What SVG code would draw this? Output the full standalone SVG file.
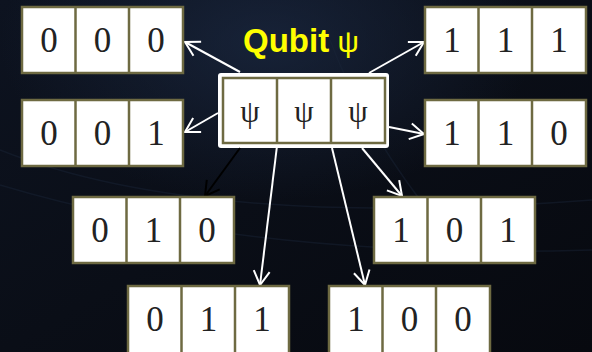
<svg xmlns="http://www.w3.org/2000/svg" width="592" height="352" viewBox="0 0 592 352">
  <defs>
    <linearGradient id="bg" x1="0" y1="0" x2="1" y2="1">
      <stop offset="0" stop-color="#0d1320"/>
      <stop offset="0.5" stop-color="#0a0e17"/>
      <stop offset="1" stop-color="#07090f"/>
    </linearGradient>
    <radialGradient id="glow" cx="0.45" cy="0.12" r="0.45">
      <stop offset="0" stop-color="#1c2a44" stop-opacity="0.7"/>
      <stop offset="1" stop-color="#1c2a44" stop-opacity="0"/>
    </radialGradient>
    <marker id="ahw" viewBox="-16 -10 18 20" refX="0" refY="0" markerWidth="18" markerHeight="20" orient="auto" markerUnits="userSpaceOnUse">
      <path d="M-14,-8 L0,0 L-14,8" fill="none" stroke="#ffffff" stroke-width="2"/>
    </marker>
    <marker id="ahb" viewBox="-16 -10 18 20" refX="0" refY="0" markerWidth="18" markerHeight="20" orient="auto" markerUnits="userSpaceOnUse">
      <path d="M-14,-8 L0,0 L-14,8" fill="none" stroke="#000000" stroke-width="2"/>
    </marker>
  </defs>
  <style>
    .cell { fill: #ffffff; stroke: #6e6a42; stroke-width: 2.5; }
    .div { stroke: #6e6a42; stroke-width: 2.5; }
    .dig { font-family: "Liberation Serif", "Times New Roman", serif; font-size: 35px; fill: #222222; text-anchor: middle; }
    .psi { font-family: "Liberation Serif", "Times New Roman", serif; font-size: 31px; fill: #222222; text-anchor: middle; }
    .w { stroke: #ffffff; stroke-width: 2; fill: none; marker-end: url(#ahw); }
    .k { stroke: #000000; stroke-width: 2; fill: none; marker-end: url(#ahb); }
    .title { font-family: "Liberation Sans", Arial, sans-serif; font-size: 33px; font-weight: bold; fill: #ffff00; }
  </style>

  <rect x="0" y="0" width="592" height="352" fill="url(#bg)"/>
  <rect x="0" y="0" width="592" height="352" fill="url(#glow)"/>
  <g stroke="#1a2538" stroke-width="1.5" fill="none" opacity="0.45">
    <path d="M0,150 Q200,230 592,200"/>
    <path d="M0,185 Q250,260 592,250"/>
    <path d="M330,40 Q360,120 420,200 L470,260"/>
  </g>

  <g id="qubit">
    <text class="title" x="243" y="52">Qubit<tspan font-weight="normal" font-size="30"> ψ</tspan></text>
    <rect x="218" y="73" width="171" height="75" rx="3" fill="#ffffff"/>
    <rect class="cell" x="223" y="78" width="162" height="65"/>
    <line class="div" x1="277" y1="78" x2="277" y2="143"/>
    <line class="div" x1="331" y1="78" x2="331" y2="143"/>
    <text class="psi" x="250" y="122">ψ</text>
    <text class="psi" x="304" y="122">ψ</text>
    <text class="psi" x="358" y="122">ψ</text>
  </g>

  <g id="connectors">
    <line class="w" x1="240" y1="72" x2="185" y2="42"/>
    <line class="w" x1="218" y1="113" x2="185" y2="132"/>
    <line class="w" x1="369" y1="73" x2="424" y2="42"/>
    <line class="w" x1="389" y1="127" x2="424" y2="134"/>
    <line class="k" x1="240" y1="148" x2="205" y2="196"/>
    <line class="w" x1="277" y1="146" x2="260" y2="285"/>
    <line class="w" x1="332" y1="148" x2="365" y2="285"/>
    <line class="w" x1="362" y1="148" x2="402" y2="196"/>
  </g>

  <g id="s000">
    <rect class="cell" x="22" y="7" width="161" height="66"/>
    <line class="div" x1="75.5" y1="7" x2="75.5" y2="73"/>
    <line class="div" x1="129" y1="7" x2="129" y2="73"/>
    <text class="dig" x="49" y="52">0</text><text class="dig" x="102.5" y="52">0</text><text class="dig" x="156" y="52">0</text>
  </g>
  <g id="s001">
    <rect class="cell" x="22" y="100" width="161" height="66"/>
    <line class="div" x1="75.5" y1="100" x2="75.5" y2="166"/>
    <line class="div" x1="129" y1="100" x2="129" y2="166"/>
    <text class="dig" x="49" y="145">0</text><text class="dig" x="102.5" y="145">0</text><text class="dig" x="156" y="145">1</text>
  </g>
  <g id="s111">
    <rect class="cell" x="425" y="7" width="161" height="66"/>
    <line class="div" x1="478.5" y1="7" x2="478.5" y2="73"/>
    <line class="div" x1="532" y1="7" x2="532" y2="73"/>
    <text class="dig" x="452" y="52">1</text><text class="dig" x="505.5" y="52">1</text><text class="dig" x="559" y="52">1</text>
  </g>
  <g id="s110">
    <rect class="cell" x="425" y="100" width="161" height="66"/>
    <line class="div" x1="478.5" y1="100" x2="478.5" y2="166"/>
    <line class="div" x1="532" y1="100" x2="532" y2="166"/>
    <text class="dig" x="452" y="145">1</text><text class="dig" x="505.5" y="145">1</text><text class="dig" x="559" y="145">0</text>
  </g>
  <g id="s010">
    <rect class="cell" x="73" y="197" width="161" height="66"/>
    <line class="div" x1="126.5" y1="197" x2="126.5" y2="263"/>
    <line class="div" x1="180" y1="197" x2="180" y2="263"/>
    <text class="dig" x="100" y="242">0</text><text class="dig" x="153.5" y="242">1</text><text class="dig" x="207" y="242">0</text>
  </g>
  <g id="s101">
    <rect class="cell" x="374" y="197" width="161" height="66"/>
    <line class="div" x1="427.5" y1="197" x2="427.5" y2="263"/>
    <line class="div" x1="481" y1="197" x2="481" y2="263"/>
    <text class="dig" x="401" y="242">1</text><text class="dig" x="454.5" y="242">0</text><text class="dig" x="508" y="242">1</text>
  </g>
  <g id="s011">
    <rect class="cell" x="128" y="286" width="161" height="68"/>
    <line class="div" x1="181.5" y1="286" x2="181.5" y2="354"/>
    <line class="div" x1="235" y1="286" x2="235" y2="354"/>
    <text class="dig" x="155" y="331">0</text><text class="dig" x="208.5" y="331">1</text><text class="dig" x="262" y="331">1</text>
  </g>
  <g id="s100">
    <rect class="cell" x="329" y="286" width="161" height="68"/>
    <line class="div" x1="382.5" y1="286" x2="382.5" y2="354"/>
    <line class="div" x1="436" y1="286" x2="436" y2="354"/>
    <text class="dig" x="356" y="331">1</text><text class="dig" x="409.5" y="331">0</text><text class="dig" x="463" y="331">0</text>
  </g>
</svg>
